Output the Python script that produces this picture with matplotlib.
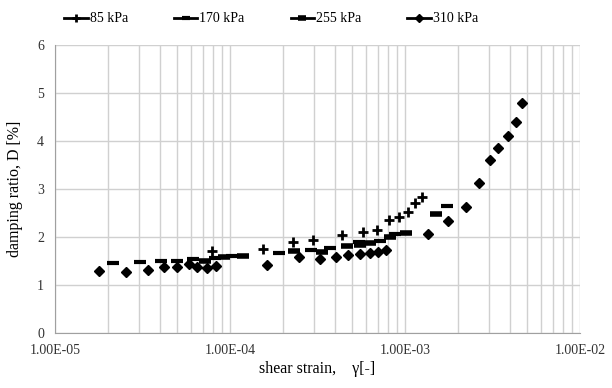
import matplotlib.pyplot as plt
from matplotlib.ticker import LogLocator
import numpy as np

plt.rcParams['font.family'] = ['Liberation Serif', 'DejaVu Serif']

# 85 kPa
strain85 = [7.89e-5, 1.55e-4, 2.29e-4, 2.98e-4, 4.36e-4, 5.75e-4, 6.91e-4, 8.11e-4,
            9.25e-4, 1.04e-3, 1.14e-3, 1.25e-3]
damp85 = [1.71, 1.75, 1.90, 1.94, 2.04, 2.10, 2.15, 2.35, 2.42, 2.52, 2.71, 2.83]

# 170 kPa
strain170 = [2.14e-5, 3.06e-5, 4.04e-5, 4.98e-5, 6.15e-5, 8.21e-5, 1.03e-4, 1.91e-4,
             2.90e-4, 3.73e-4, 5.46e-4, 7.20e-4, 8.77e-4, 1.74e-3]
damp170 = [1.46, 1.48, 1.50, 1.50, 1.54, 1.56, 1.60, 1.67, 1.73, 1.77, 1.90, 1.92, 2.06, 2.65]

# 255 kPa
strain255 = [7.20e-5, 9.24e-5, 1.19e-4, 2.32e-4, 3.36e-4, 4.67e-4, 5.53e-4, 6.31e-4,
             8.21e-4, 1.01e-3, 1.50e-3]
damp255 = [1.50, 1.58, 1.60, 1.71, 1.69, 1.81, 1.83, 1.875, 2.00, 2.08, 2.48]

# 310 kPa
strain310 = [1.78e-5, 2.55e-5, 3.40e-5, 4.20e-5, 4.98e-5, 5.83e-5, 6.48e-5, 7.39e-5,
             8.32e-5, 1.63e-4, 2.48e-4, 3.27e-4, 4.03e-4, 4.72e-4, 5.53e-4, 6.31e-4,
             7.01e-4, 7.79e-4, 1.35e-3, 1.76e-3, 2.23e-3, 2.65e-3, 3.06e-3, 3.40e-3,
             3.88e-3, 4.31e-3, 4.66e-3]
damp310 = [1.29, 1.27, 1.31, 1.375, 1.375, 1.44, 1.375, 1.35, 1.40, 1.42, 1.58, 1.54,
           1.58, 1.625, 1.65, 1.67, 1.69, 1.73, 2.06, 2.33, 2.625, 3.125, 3.60, 3.85,
           4.10, 4.40, 4.79]

xticks = [1e-5, 1e-4, 1e-3, 1e-2]
xticklabels = ["1.00E-05", "1.00E-04", "1.00E-03", "1.00E-02"]
labels = ['85 kPa', '170 kPa', '255 kPa', '310 kPa']

fig = plt.figure(figsize=(6.12, 3.88), dpi=100)
ax = fig.add_axes([0.0899, 0.1418, 0.858, 0.742])

ax.plot(strain85, damp85, linestyle='none', marker='+', ms=7, mew=2, color='black')
ax.plot(strain170, damp170, linestyle='none', marker='_', ms=8, mew=3, color='black')
ax.plot(strain255, damp255, linestyle='none', marker='_', ms=8, mew=4, color='black')
ax.plot(strain310, damp310, linestyle='none', marker='D', ms=5, color='black')

ax.set_xscale('log')
ax.set_xlim(1e-5, 1e-2)
ax.set_ylim(0, 6)
ax.set_xticks(xticks)
ax.set_xticklabels(xticklabels)
ax.xaxis.set_minor_locator(LogLocator(base=10, subs=np.arange(2, 10)))
ax.xaxis.set_minor_formatter(plt.NullFormatter())
ax.set_yticks(range(0, 7))
ax.grid(True, which='both', axis='x', color='#d0d0d0', lw=1)
ax.grid(True, which='major', axis='y', color='#d0d0d0', lw=1)
ax.set_axisbelow(True)
ax.tick_params(which='both', length=0, labelsize=10, colors='#333333', pad=8)
for s in ['top', 'right']:
    ax.spines[s].set_visible(False)
for s in ['left', 'bottom']:
    ax.spines[s].set_color('#a0a0a0')

ax.set_xlabel('shear strain,    γ[-]', fontsize=11.5, labelpad=3)
ax.set_ylabel('damping ratio, D [%]', fontsize=11.5, labelpad=10)

# legend with line through marker
handles = []
for m, mw in [('+', 2), ('_', 3), ('_', 4), ('D', 1)]:
    h, = ax.plot([], [], color='black', lw=2, marker=m, ms=6 if m != 'D' else 4, mew=mw)
    handles.append(h)
fig.legend(handles, labels, loc='upper center',
           bbox_to_anchor=(0.443, 1.0), ncol=4, frameon=False, fontsize=10,
           handlelength=1.7, handletextpad=0.15, columnspacing=3.3)

fig.savefig('out.png', dpi=100)
